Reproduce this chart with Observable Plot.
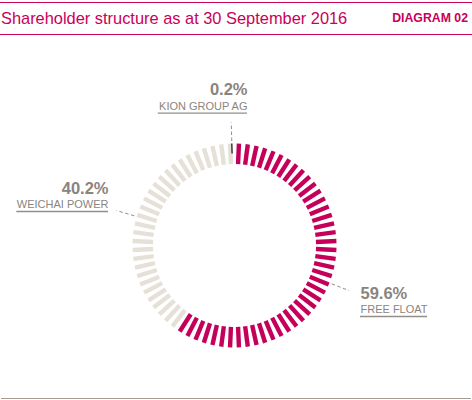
<!DOCTYPE html>
<html>
<head>
<meta charset="utf-8">
<script src="https://cdn.jsdelivr.net/npm/d3@7"></script>
<script src="https://cdn.jsdelivr.net/npm/@observablehq/plot@0.6"></script>
<style>
  html, body { margin: 0; padding: 0; background: #fff; }
  body { width: 472px; font-family: "Liberation Sans", Arial, Helvetica, sans-serif; }
  .header { position: relative; margin-top: 2px; height: 31px; border-top: 1px solid #c8005a; border-bottom: 1px solid #c8005a; }
  .title { position: absolute; left: 1px; top: 7.4px; font-size: 16.4px; line-height: 16.4px; color: #c8005a; white-space: nowrap; }
  .tag { position: absolute; right: 4px; top: 9.3px; font-size: 12.3px; line-height: 12.3px; font-weight: bold; color: #c8005a; white-space: nowrap; }
  #chart svg { display: block; }
  .footer { height: 0; border-top: 1.2px solid #a39b93; width: 470px; margin-left: 1px; }
</style>
</head>
<body>
<div class="header">
  <div class="title">Shareholder structure as at 30 September 2016</div>
  <div class="tag">DIAGRAM 02</div>
</div>
<div id="chart"></div>
<div class="footer"></div>
<script>
// ---- data ----
const holders = ["FREE FLOAT", "WEICHAI POWER", "KION GROUP AG"];
const shares = [59.6, 40.2, 0.2];
const shareLabels = ["59.6%", "40.2%", "0.2%"];

// ---- styles / layout ----
const holderColors = ["#c4005a", "#e6e1d8", "#111111"];
const textGray = "#8a847e";
const lineGray = "#958e86";
const nBars = 72;
const rInner = 81.5, rOuter = 102;
const leaderR0 = 104.5, leaderR1 = 123;
// label layout: leader angle (deg clockwise from top), underline anchor (relative to ring centre)
const labelLayout = [
  {angle: 111.5, ux: 126, uy: 71, anchor: "start"},
  {angle: 286.5, ux: -126, uy: -34, anchor: "end"},
  {angle: 358.5, ux: 13, uy: -132.3, anchor: "end"}
];
const W = 472, H = 363, cx = 234, cy = 210;
const font = '"Liberation Sans", Arial, Helvetica, sans-serif';

const rad = d => d * Math.PI / 180;
const px = (r, a) => r * Math.sin(rad(a));
const py = (r, a) => -r * Math.cos(rad(a));

// cumulative angles
const total = d3.sum(shares);
let acc = 0;
const segs = holders.map((h, i) => {
  const a0 = acc / total * 360;
  acc += shares[i];
  const a1 = acc / total * 360;
  return {holder: h, i, a0, a1};
});

// bars
const bars = d3.range(nBars).map(k => {
  const a = (k + 0.5) * 360 / nBars;
  const s = segs.find(s => a >= s.a0 && a < s.a1) || segs[segs.length - 1];
  return {a, holder: s.holder, color: holderColors[s.i]};
});

// tiny share drawn as thin dark tick
const tickData = segs.filter(s => (s.a1 - s.a0) < 360 / nBars).map(s => ({a: labelLayout[s.i].angle, color: holderColors[s.i]}));

// leaders and labels
const labels = holders.map((h, i) => ({holder: h, pct: shareLabels[i], ...labelLayout[i]}));

const canvas = document.createElement("canvas");
const ctx = canvas.getContext("2d");
ctx.font = `11px ${font}`;
labels.forEach(d => {
  const w = ctx.measureText(d.holder).width;
  d.x1 = d.anchor === "start" ? d.ux : d.ux - w;
  d.x2 = d.anchor === "start" ? d.ux + w : d.ux;
});

const textMarks = ["start", "end"].flatMap(anchor => {
  const subset = labels.filter(d => d.anchor === anchor);
  return [
    Plot.text(subset, {
      x: "ux", y: d => d.uy - 3.4, text: "holder", textAnchor: anchor,
      lineAnchor: "bottom", fontSize: 11, fill: textGray
    }),
    Plot.text(subset, {
      x: "ux", y: d => d.uy - 17.8, text: "pct", textAnchor: anchor,
      lineAnchor: "bottom", fontSize: 16.5, fontWeight: "bold", fill: textGray
    })
  ];
});

const chart = Plot.plot({
  width: W,
  height: H,
  margin: 0,
  x: {domain: [-cx, W - cx], range: [0, W], axis: null},
  y: {domain: [-cy, H - cy], range: [0, H], axis: null},
  style: {fontFamily: font, background: "#fff"},
  marks: [
    Plot.link(bars, {
      x1: d => px(rInner, d.a), y1: d => py(rInner, d.a),
      x2: d => px(rOuter, d.a), y2: d => py(rOuter, d.a),
      stroke: d => d.color, strokeWidth: 4.4, strokeLinecap: "butt"
    }),
    Plot.link(tickData, {
      x1: d => px(92, d.a), y1: d => py(92, d.a),
      x2: d => px(rOuter, d.a), y2: d => py(rOuter, d.a),
      stroke: d => d.color, strokeWidth: 1.2
    }),
    Plot.link(labels, {
      x1: d => px(leaderR0, d.angle), y1: d => py(leaderR0, d.angle),
      x2: d => px(leaderR1, d.angle), y2: d => py(leaderR1, d.angle),
      stroke: lineGray, strokeWidth: 1, strokeDasharray: "3.5,2.5"
    }),
    Plot.ruleY(labels, {x1: "x1", x2: "x2", y: "uy", stroke: lineGray, strokeWidth: 1.3}),
    ...textMarks
  ]
});
document.getElementById("chart").append(chart);
</script>
</body>
</html>
